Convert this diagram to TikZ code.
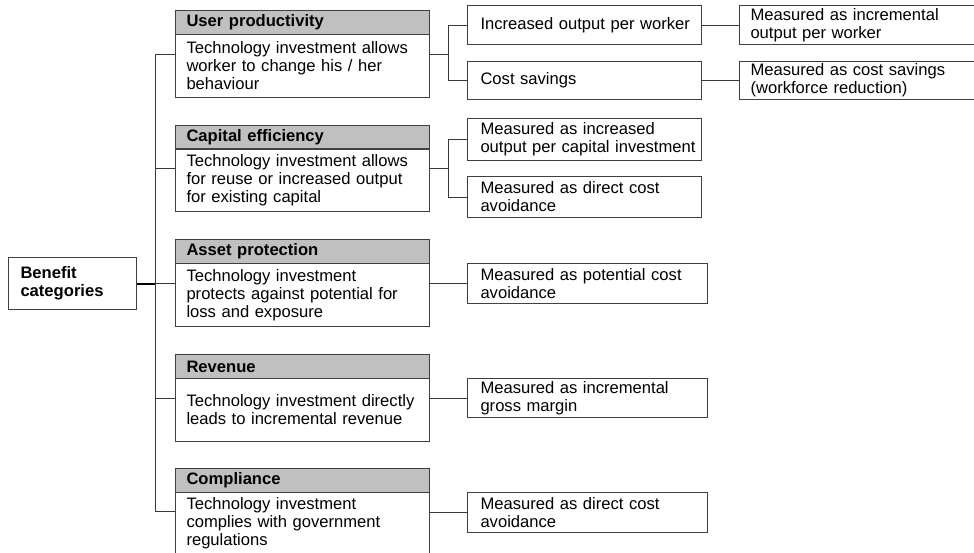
\documentclass[tikz,border=0pt]{standalone}
\usepackage{fontspec}
\setmainfont{Liberation Sans}
\usetikzlibrary{calc}
\definecolor{hdrfill}{HTML}{C0C0C0}
\definecolor{edge}{HTML}{404040}
\definecolor{wire}{HTML}{383838}
\newcommand\dgfont{\fontsize{16.6}{18}\selectfont}
\begin{document}
\begin{tikzpicture}[x=1pt,y=-1pt,
  every node/.style={font=\dgfont},
  frame/.style={draw=edge, line width=1pt, rectangle, anchor=north west,
    align=left, inner ysep=0pt},
  rootbox/.style={frame, font=\dgfont\bfseries, minimum width=128pt,
    text width=104pt, inner xsep=12pt},
  hdr/.style={frame, fill=hdrfill, font=\dgfont\bfseries, minimum width=254pt,
    text width=232pt, inner xsep=11pt, minimum height=24pt},
  body/.style={frame, minimum width=254pt, text width=232pt, inner xsep=11pt},
  colA/.style={frame, minimum width=234pt, text width=208pt, inner xsep=13pt},
  colB/.style={frame, minimum width=240pt, text width=214pt, inner xsep=13pt},
  colC/.style={frame, minimum width=237pt, text width=215pt, inner xsep=11pt},
  link/.style={draw=wire, line width=1pt},
  rootlink/.style={draw=black, line width=2pt}
]
\useasboundingbox (0,0) rectangle (974,552);

% root
\node[rootbox, minimum height=52pt] (root) at (8,257) {Benefit\\categories};

% benefit categories: header + description
\node[hdr] (uph) at (175,10) {User productivity};
\node[body, minimum height=63pt] (upb) at (175,34)
  {\mbox{Technology investment allows}\\worker to change his / her\\behaviour};
\node[hdr] (ceh) at (175,125) {Capital efficiency};
\node[body, minimum height=63pt] (ceb) at (175,148)
  {\mbox{Technology investment allows}\\\mbox{for reuse or increased output}\\for existing capital};
\node[hdr] (aph) at (175,239) {Asset protection};
\node[body, minimum height=63pt] (apb) at (175,263)
  {Technology investment\\\mbox{protects against potential for}\\loss and exposure};
\node[hdr] (rvh) at (175,354) {Revenue};
\node[body, minimum height=63pt] (rvb) at (175,378)
  {\mbox{Technology investment directly}\\leads to incremental revenue};
\node[hdr] (cph) at (175,468) {Compliance};
\node[body, minimum height=62pt] (cpb) at (175,492)
  {Technology investment\\complies with government\\regulations};

% measures
\node[colA, minimum height=39pt] (io) at (467,5) {\mbox{Increased output per worker}};
\node[colA, minimum height=38pt] (cs) at (467,61) {Cost savings};
\node[colA, minimum height=42pt] (mio) at (467,118)
  {Measured as increased\\\mbox{output per capital investment}};
\node[colA, minimum height=41pt] (mdc) at (467,176)
  {Measured as direct cost\\avoidance};
\node[colB, minimum height=40pt] (mpc) at (467,263)
  {\mbox{Measured as potential cost}\\avoidance};
\node[colB, minimum height=39pt] (mgm) at (467,378)
  {Measured as incremental\\gross margin};
\node[colB, minimum height=40pt] (mdv) at (467,492)
  {Measured as direct cost\\avoidance};
\node[colC, minimum height=39pt] (miw) at (739,5)
  {Measured as incremental\\output per worker};
\node[colC, minimum height=38pt] (mcs) at (739,61)
  {\mbox{Measured as cost savings}\\(workforce reduction)};

% group mid points (header + description)
\coordinate (upL) at ($(uph.north west)!0.5!(upb.south west)$);
\coordinate (upR) at ($(uph.north east)!0.5!(upb.south east)$);
\coordinate (ceL) at ($(ceh.north west)!0.5!(ceb.south west)$);
\coordinate (ceR) at ($(ceh.north east)!0.5!(ceb.south east)$);
\coordinate (apL) at ($(aph.north west)!0.5!(apb.south west)$);
\coordinate (rvL) at ($(rvh.north west)!0.5!(rvb.south west)$);
\coordinate (cpL) at ($(cph.north west)!0.5!(cpb.south west)$);
\coordinate (tk) at (155,0);
\coordinate (fk) at (448,0);

% trunk and branches
\draw[link] (tk |- upL) -- (tk |- cpL);
\draw[link] (tk |- upL) -- (upL);
\draw[link] (tk |- ceL) -- (ceL);
\draw[link] (tk |- apL) -- (apL);
\draw[link] (tk |- rvL) -- (rvL);
\draw[link] (tk |- cpL) -- (cpL);
\draw[rootlink] (root.east) -- (root.east -| tk);

% forks to measures
\draw[link] (upR) -- (upR -| fk);
\draw[link] (io.west) -- (io.west -| fk) -- (cs.west -| fk) -- (cs.west);
\draw[link] (ceR) -- (ceR -| fk);
\draw[link] (mio.west) -- (mio.west -| fk) -- (mdc.west -| fk) -- (mdc.west);
\draw[link] (mpc.west) -- (mpc.west -| apb.east);
\draw[link] (mgm.west) -- (mgm.west -| rvb.east);
\draw[link] (mdv.west) -- (mdv.west -| cpb.east);
\draw[link] (io.east) -- (miw.west);
\draw[link] (cs.east) -- (mcs.west);
\end{tikzpicture}
\end{document}
